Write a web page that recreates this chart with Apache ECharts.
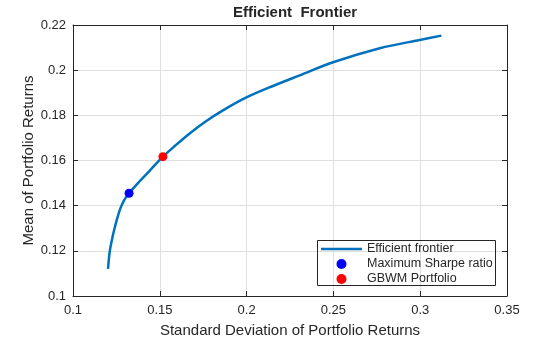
<!DOCTYPE html>
<html>
<head>
<meta charset="utf-8">
<script src="https://cdn.jsdelivr.net/npm/echarts@6/dist/echarts.min.js"></script>
<style>html,body{margin:0;padding:0;background:#fff}#c{width:560px;height:337px}</style>
</head>
<body>
<div id="c"></div>
<script>
const frontierStd  = [0.1202, 0.1206, 0.1213, 0.1224, 0.1237, 0.1255, 0.1274, 0.1295, 0.1323, 0.1384, 0.1442, 0.1518, 0.1586, 0.1672, 0.1764, 0.1864, 0.1999, 0.2152, 0.2306, 0.2498, 0.2767, 0.2997, 0.3122];
const frontierMean = [0.1120, 0.1159, 0.1204, 0.1248, 0.1292, 0.1345, 0.1390, 0.1425, 0.1455, 0.1508, 0.1555, 0.1617, 0.1664, 0.1720, 0.1773, 0.1822, 0.1879, 0.1930, 0.1977, 0.2035, 0.2097, 0.2134, 0.2153];
const sharpeStd = [0.1323];
const sharpeMean = [0.1455];
const gbwmStd = [0.1518];
const gbwmMean = [0.1617];
const xTicks = [0.1, 0.15, 0.2, 0.25, 0.3, 0.35];
const yTicks = [0.1, 0.12, 0.14, 0.16, 0.18, 0.2, 0.22];

const txt = '#262626';
const font = 'Liberation Sans, Arial, sans-serif';
const fmt = v => String(+v.toFixed(4));
const chart = echarts.init(document.getElementById('c'), null, {renderer: 'canvas'});
const axBase = {
  axisLine: {show: true, lineStyle: {color: txt, width: 1}},
  axisTick: {show: true, inside: true, length: 5, lineStyle: {color: txt}},
};
chart.setOption({
  animation: false,
  backgroundColor: '#fff',
  title: {text: 'Efficient  Frontier', left: 290, textAlign: 'center', top: 0,
    textStyle: {fontFamily: font, fontSize: 15, fontWeight: 'bold', color: txt}},
  grid: {left: 73, right: 53, top: 25, bottom: 41, containLabel: false, outerBoundsMode: 'none'},
  xAxis: [
    Object.assign({type: 'value', min: xTicks[0], max: xTicks[xTicks.length-1], interval: 0.05, position: 'bottom',
      name: 'Standard Deviation of Portfolio Returns', nameLocation: 'middle', nameGap: 27, nameMoveOverlap: false,
      nameTextStyle: {fontFamily: font, fontSize: 15, color: txt},
      axisLabel: {fontFamily: font, fontSize: 13, color: txt, margin: 8, formatter: fmt},
      splitLine: {show: true, lineStyle: {color: '#dfdfdf'}}}, axBase),
    Object.assign({type: 'value', min: xTicks[0], max: xTicks[xTicks.length-1], interval: 0.05, position: 'top',
      axisLabel: {show: false}, splitLine: {show: false}}, axBase)
  ],
  yAxis: [
    Object.assign({type: 'value', min: yTicks[0], max: yTicks[yTicks.length-1], interval: 0.02, position: 'left',
      name: 'Mean of Portfolio Returns', nameLocation: 'middle', nameGap: 37, nameMoveOverlap: false,
      nameTextStyle: {fontFamily: font, fontSize: 15, color: txt},
      axisLabel: {fontFamily: font, fontSize: 13, color: txt, margin: 7, formatter: fmt},
      splitLine: {show: true, lineStyle: {color: '#dfdfdf'}}}, axBase),
    Object.assign({type: 'value', min: yTicks[0], max: yTicks[yTicks.length-1], interval: 0.02, position: 'right',
      axisLabel: {show: false}, splitLine: {show: false}}, axBase)
  ],
  legend: {
    orient: 'vertical', left: 321, top: 242, itemGap: 1, itemWidth: 41, itemHeight: 10,
    padding: 0, symbolKeepAspect: true,
    textStyle: {fontFamily: font, fontSize: 12.5, color: txt, lineHeight: 14},
    data: [
      {name: 'Efficient frontier', icon: 'path://M0,0h41v2.6h-41z'},
      'Maximum Sharpe ratio', 'GBWM Portfolio']
  },
  graphic: [
    {type: 'rect', shape: {x: 317.5, y: 240.5, width: 178, height: 45},
    style: {fill: 'none', stroke: txt, lineWidth: 1}, z: 100, silent: true}
  ],
  series: [
    {name: 'Efficient frontier', type: 'line', smooth: 0.35, symbol: 'none',
      data: frontierStd.map((x, i) => [x, frontierMean[i]]),
      lineStyle: {color: '#0072BD', width: 2.5}, itemStyle: {color: '#0072BD'}},
    {name: 'Maximum Sharpe ratio', type: 'scatter', symbol: 'circle', symbolSize: 9,
      data: sharpeStd.map((x, i) => [x, sharpeMean[i]]), itemStyle: {color: '#0000FF', opacity: 1}, z: 5},
    {name: 'GBWM Portfolio', type: 'scatter', symbol: 'circle', symbolSize: 9,
      data: gbwmStd.map((x, i) => [x, gbwmMean[i]]), itemStyle: {color: '#FF0000', opacity: 1}, z: 5}
  ]
});
</script>
</body>
</html>
